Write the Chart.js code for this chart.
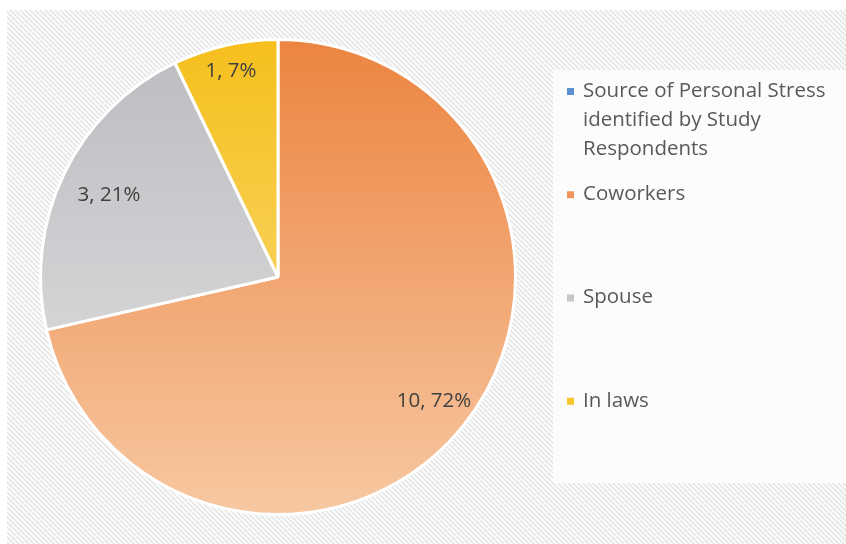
<!DOCTYPE html>
<html>
<head>
<meta charset="utf-8">
<script src="https://cdn.jsdelivr.net/npm/chart.js@4.4.1/dist/chart.umd.min.js"></script>
<style>
  body { margin: 0; background: #ffffff; }
  #wrap { width: 846px; height: 544px; }
</style>
</head>
<body>
<div id="wrap"><canvas id="chart" width="846" height="544"></canvas></div>
<script>
// Source of personal stress, counts per category
const categories = [
  "Source of Personal Stress identified by Study Respondents",
  "Coworkers",
  "Spouse",
  "In laws",
];
const counts = [0, 10, 3, 1];

// slice fills run top -> bottom
const topColors = ["#4a86c8", "#ec8440", "#bbbcbf", "#f5bf1c"];
const bottomColors = ["#8fb8e2", "#f7c8a2", "#e4e4e6", "#fbe08c"];
const legendColors = ["#5b8fcf", "#f0955a", "#c6c7c9", "#f7c52c"];

const labelRadius = [0, 0.84, 0.79, 0.89];
const legendBox = { left: 553, top: 70, right: 846, bottom: 483 };

const textFont = '"Open Sans", "DejaVu Sans", sans-serif';

// whole-number percentages that add up to 100 (largest remainder)
function percents(values) {
  const total = values.reduce((a, b) => a + b, 0);
  const raw = values.map((v) => (v / total) * 100);
  const out = raw.map(Math.floor);
  let left = 100 - out.reduce((a, b) => a + b, 0);
  const order = raw
    .map((r, i) => ({ i, frac: r - Math.floor(r) }))
    .sort((a, b) => b.frac - a.frac);
  for (let k = 0; k < order.length && left > 0; k++, left--) out[order[k].i]++;
  return out;
}
const pct = percents(counts);

function hatch(ctx) {
  const tile = document.createElement("canvas");
  tile.width = 5;
  tile.height = 5;
  const t = tile.getContext("2d");
  t.fillStyle = "#fdfdfd";
  t.fillRect(0, 0, 5, 5);
  t.strokeStyle = "#e5e7e7";
  t.lineWidth = 1.8;
  t.beginPath();
  t.moveTo(-1, -1); t.lineTo(6, 6);
  t.moveTo(-1, 4); t.lineTo(1, 6);
  t.moveTo(4, -1); t.lineTo(6, 1);
  t.stroke();
  return ctx.createPattern(tile, "repeat");
}

const backdrop = {
  id: "backdrop",
  beforeDraw(chart) {
    const ctx = chart.ctx;
    ctx.save();
    ctx.fillStyle = "#ffffff";
    ctx.fillRect(0, 0, chart.width, chart.height);
    ctx.fillStyle = hatch(ctx);
    ctx.fillRect(7, 10, chart.width - 7, chart.height - 10);
    ctx.fillStyle = "#fcfcfc";
    ctx.fillRect(legendBox.left, legendBox.top,
      legendBox.right - legendBox.left, legendBox.bottom - legendBox.top);
    ctx.restore();
  },
};

const sliceLabels = {
  id: "sliceLabels",
  afterDatasetsDraw(chart) {
    const ctx = chart.ctx;
    const meta = chart.getDatasetMeta(0);
    ctx.save();
    ctx.font = "20.5px " + textFont;
    ctx.fillStyle = "#404040";
    ctx.textAlign = "center";
    ctx.textBaseline = "middle";
    meta.data.forEach((arc, i) => {
      if (!counts[i]) return;
      const p = arc.getProps(["x", "y", "startAngle", "endAngle", "outerRadius"], true);
      const mid = (p.startAngle + p.endAngle) / 2;
      const r = p.outerRadius * labelRadius[i];
      ctx.fillText(counts[i] + ", " + pct[i] + "%",
        p.x + Math.cos(mid) * r, p.y + Math.sin(mid) * r);
    });
    ctx.restore();
  },
};

function wrap(ctx, text, maxWidth) {
  const words = text.split(" ");
  const lines = [];
  let line = "";
  words.forEach((w) => {
    const test = line ? line + " " + w : w;
    if (line && ctx.measureText(test).width > maxWidth) {
      lines.push(line);
      line = w;
    } else {
      line = test;
    }
  });
  lines.push(line);
  return lines;
}

const sideLegend = {
  id: "sideLegend",
  afterDraw(chart) {
    const ctx = chart.ctx;
    const slot = (legendBox.bottom - legendBox.top) / categories.length;
    ctx.save();
    ctx.font = "20.5px " + textFont;
    ctx.textBaseline = "middle";
    categories.forEach((name, i) => {
      const y = legendBox.top + i * slot + 21;
      ctx.fillStyle = legendColors[i];
      ctx.fillRect(567, y - 3, 7, 7);
      ctx.fillStyle = "#595959";
      wrap(ctx, name, 255).forEach((ln, k) => {
        ctx.fillText(ln, 583, y + k * 29);
      });
    });
    ctx.restore();
  },
};

new Chart(document.getElementById("chart"), {
  type: "pie",
  data: {
    labels: categories,
    datasets: [
      {
        data: counts,
        backgroundColor: (c) => {
          const area = c.chart.chartArea;
          if (!area) return topColors[c.dataIndex];
          const g = c.chart.ctx.createLinearGradient(0, area.top, 0, area.bottom);
          g.addColorStop(0, topColors[c.dataIndex]);
          g.addColorStop(1, bottomColors[c.dataIndex]);
          return g;
        },
        borderColor: "#ffffff",
        borderWidth: 3,
      },
    ],
  },
  options: {
    responsive: false,
    animation: false,
    layout: { padding: { left: 39, right: 329, top: 38, bottom: 28 } },
    plugins: {
      legend: { display: false },
      tooltip: { enabled: false },
    },
  },
  plugins: [backdrop, sliceLabels, sideLegend],
});
</script>
</body>
</html>
